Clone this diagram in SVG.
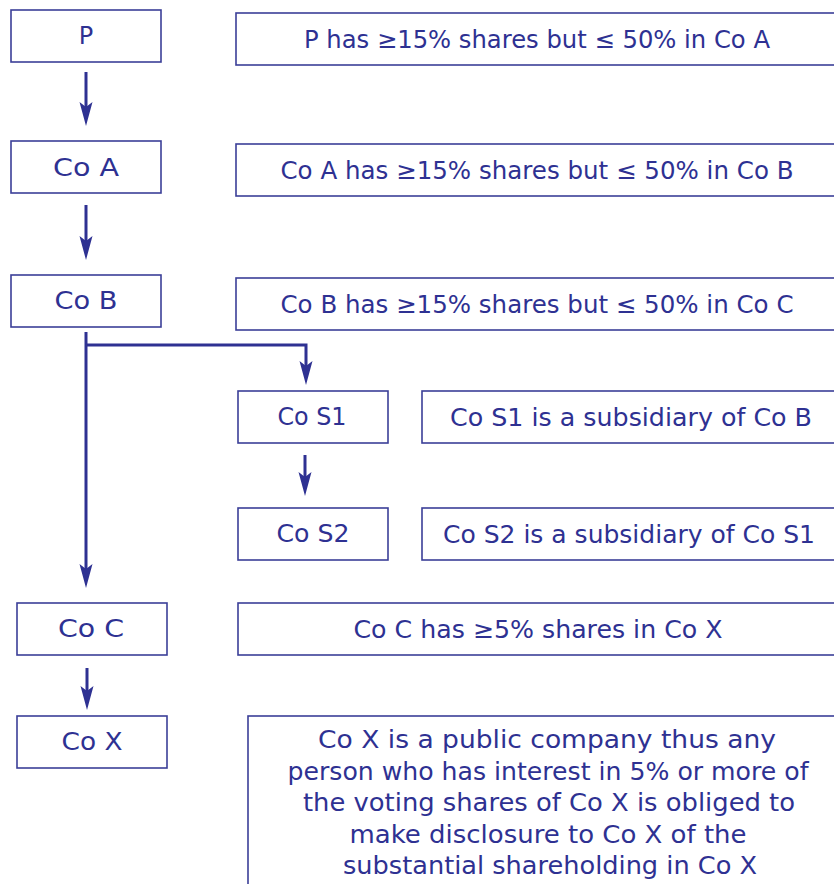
<svg xmlns="http://www.w3.org/2000/svg" width="834" height="884" viewBox="0 0 834 884">
<style>
.box{fill:#fff;stroke:#3B3F98;stroke-width:1.6}
.t{font-family:"DejaVu Sans","Liberation Sans",sans-serif;font-size:24px;fill:#2E3192;text-anchor:middle}
.ln{fill:none;stroke:#2E3192;stroke-width:3}
.ah{fill:#2E3192}
</style>
<defs>
<path id="head" d="M0 0 L-6.5 -24 L0 -19 L6.5 -24 Z"/>
</defs>
<rect width="834" height="884" fill="#fff"/>
<g id="connectors">
<line class="ln" x1="86" y1="72" x2="86" y2="108"/><use href="#head" class="ah" x="86" y="126"/>
<line class="ln" x1="86" y1="205" x2="86" y2="242"/><use href="#head" class="ah" x="86" y="260"/>
<polyline class="ln" points="86,332 86,570"/><use href="#head" class="ah" x="86" y="588"/>
<polyline class="ln" points="86,345 306,345 306,367"/><use href="#head" class="ah" x="306" y="385"/>
<line class="ln" x1="305" y1="455" x2="305" y2="478"/><use href="#head" class="ah" x="305" y="496"/>
<line class="ln" x1="87" y1="668" x2="87" y2="692"/><use href="#head" class="ah" x="87" y="710"/>
</g>
<g id="P"><rect class="box" x="11" y="10" width="150" height="52"/><text class="t" x="86" y="44">P</text></g>
<g id="P_desc"><rect class="box" x="236" y="13" width="610" height="52"/><text class="t" x="537" y="48" textLength="466" lengthAdjust="spacingAndGlyphs">P has ≥15% shares but ≤ 50% in Co A</text></g>
<g id="CoA"><rect class="box" x="11" y="141" width="150" height="52"/><text class="t" x="86" y="176" textLength="66" lengthAdjust="spacingAndGlyphs">Co A</text></g>
<g id="CoA_desc"><rect class="box" x="236" y="144" width="610" height="52"/><text class="t" x="537" y="179" textLength="513" lengthAdjust="spacingAndGlyphs">Co A has ≥15% shares but ≤ 50% in Co B</text></g>
<g id="CoB"><rect class="box" x="11" y="275" width="150" height="52"/><text class="t" x="86" y="309" textLength="63" lengthAdjust="spacingAndGlyphs">Co B</text></g>
<g id="CoB_desc"><rect class="box" x="236" y="278" width="610" height="52"/><text class="t" x="537" y="313" textLength="513" lengthAdjust="spacingAndGlyphs">Co B has ≥15% shares but ≤ 50% in Co C</text></g>
<g id="CoS1"><rect class="box" x="238" y="391" width="150" height="52"/><text class="t" x="312" y="425" textLength="69" lengthAdjust="spacingAndGlyphs">Co S1</text></g>
<g id="CoS1_desc"><rect class="box" x="422" y="391" width="430" height="52"/><text class="t" x="631" y="426" textLength="362" lengthAdjust="spacingAndGlyphs">Co S1 is a subsidiary of Co B</text></g>
<g id="CoS2"><rect class="box" x="238" y="508" width="150" height="52"/><text class="t" x="313" y="542" textLength="73" lengthAdjust="spacingAndGlyphs">Co S2</text></g>
<g id="CoS2_desc"><rect class="box" x="422" y="508" width="430" height="52"/><text class="t" x="629" y="543" textLength="372" lengthAdjust="spacingAndGlyphs">Co S2 is a subsidiary of Co S1</text></g>
<g id="CoC"><rect class="box" x="17" y="603" width="150" height="52"/><text class="t" x="91" y="637" textLength="66" lengthAdjust="spacingAndGlyphs">Co C</text></g>
<g id="CoC_desc"><rect class="box" x="238" y="603" width="610" height="52"/><text class="t" x="538" y="638" textLength="369" lengthAdjust="spacingAndGlyphs">Co C has ≥5% shares in Co X</text></g>
<g id="CoX"><rect class="box" x="17" y="716" width="150" height="52"/><text class="t" x="92" y="750" textLength="61" lengthAdjust="spacingAndGlyphs">Co X</text></g>
<g id="CoX_desc"><rect class="box" x="248" y="716" width="620" height="200"/>
<text class="t" x="547" y="748" textLength="458" lengthAdjust="spacingAndGlyphs">Co X is a public company thus any</text>
<text class="t" x="548" y="780" textLength="521" lengthAdjust="spacingAndGlyphs">person who has interest in 5% or more of</text>
<text class="t" x="549" y="811" textLength="492" lengthAdjust="spacingAndGlyphs">the voting shares of Co X is obliged to</text>
<text class="t" x="548" y="843" textLength="397" lengthAdjust="spacingAndGlyphs">make disclosure to Co X of the</text>
<text class="t" x="550" y="874" textLength="414" lengthAdjust="spacingAndGlyphs">substantial shareholding in Co X</text>
</g>
</svg>
